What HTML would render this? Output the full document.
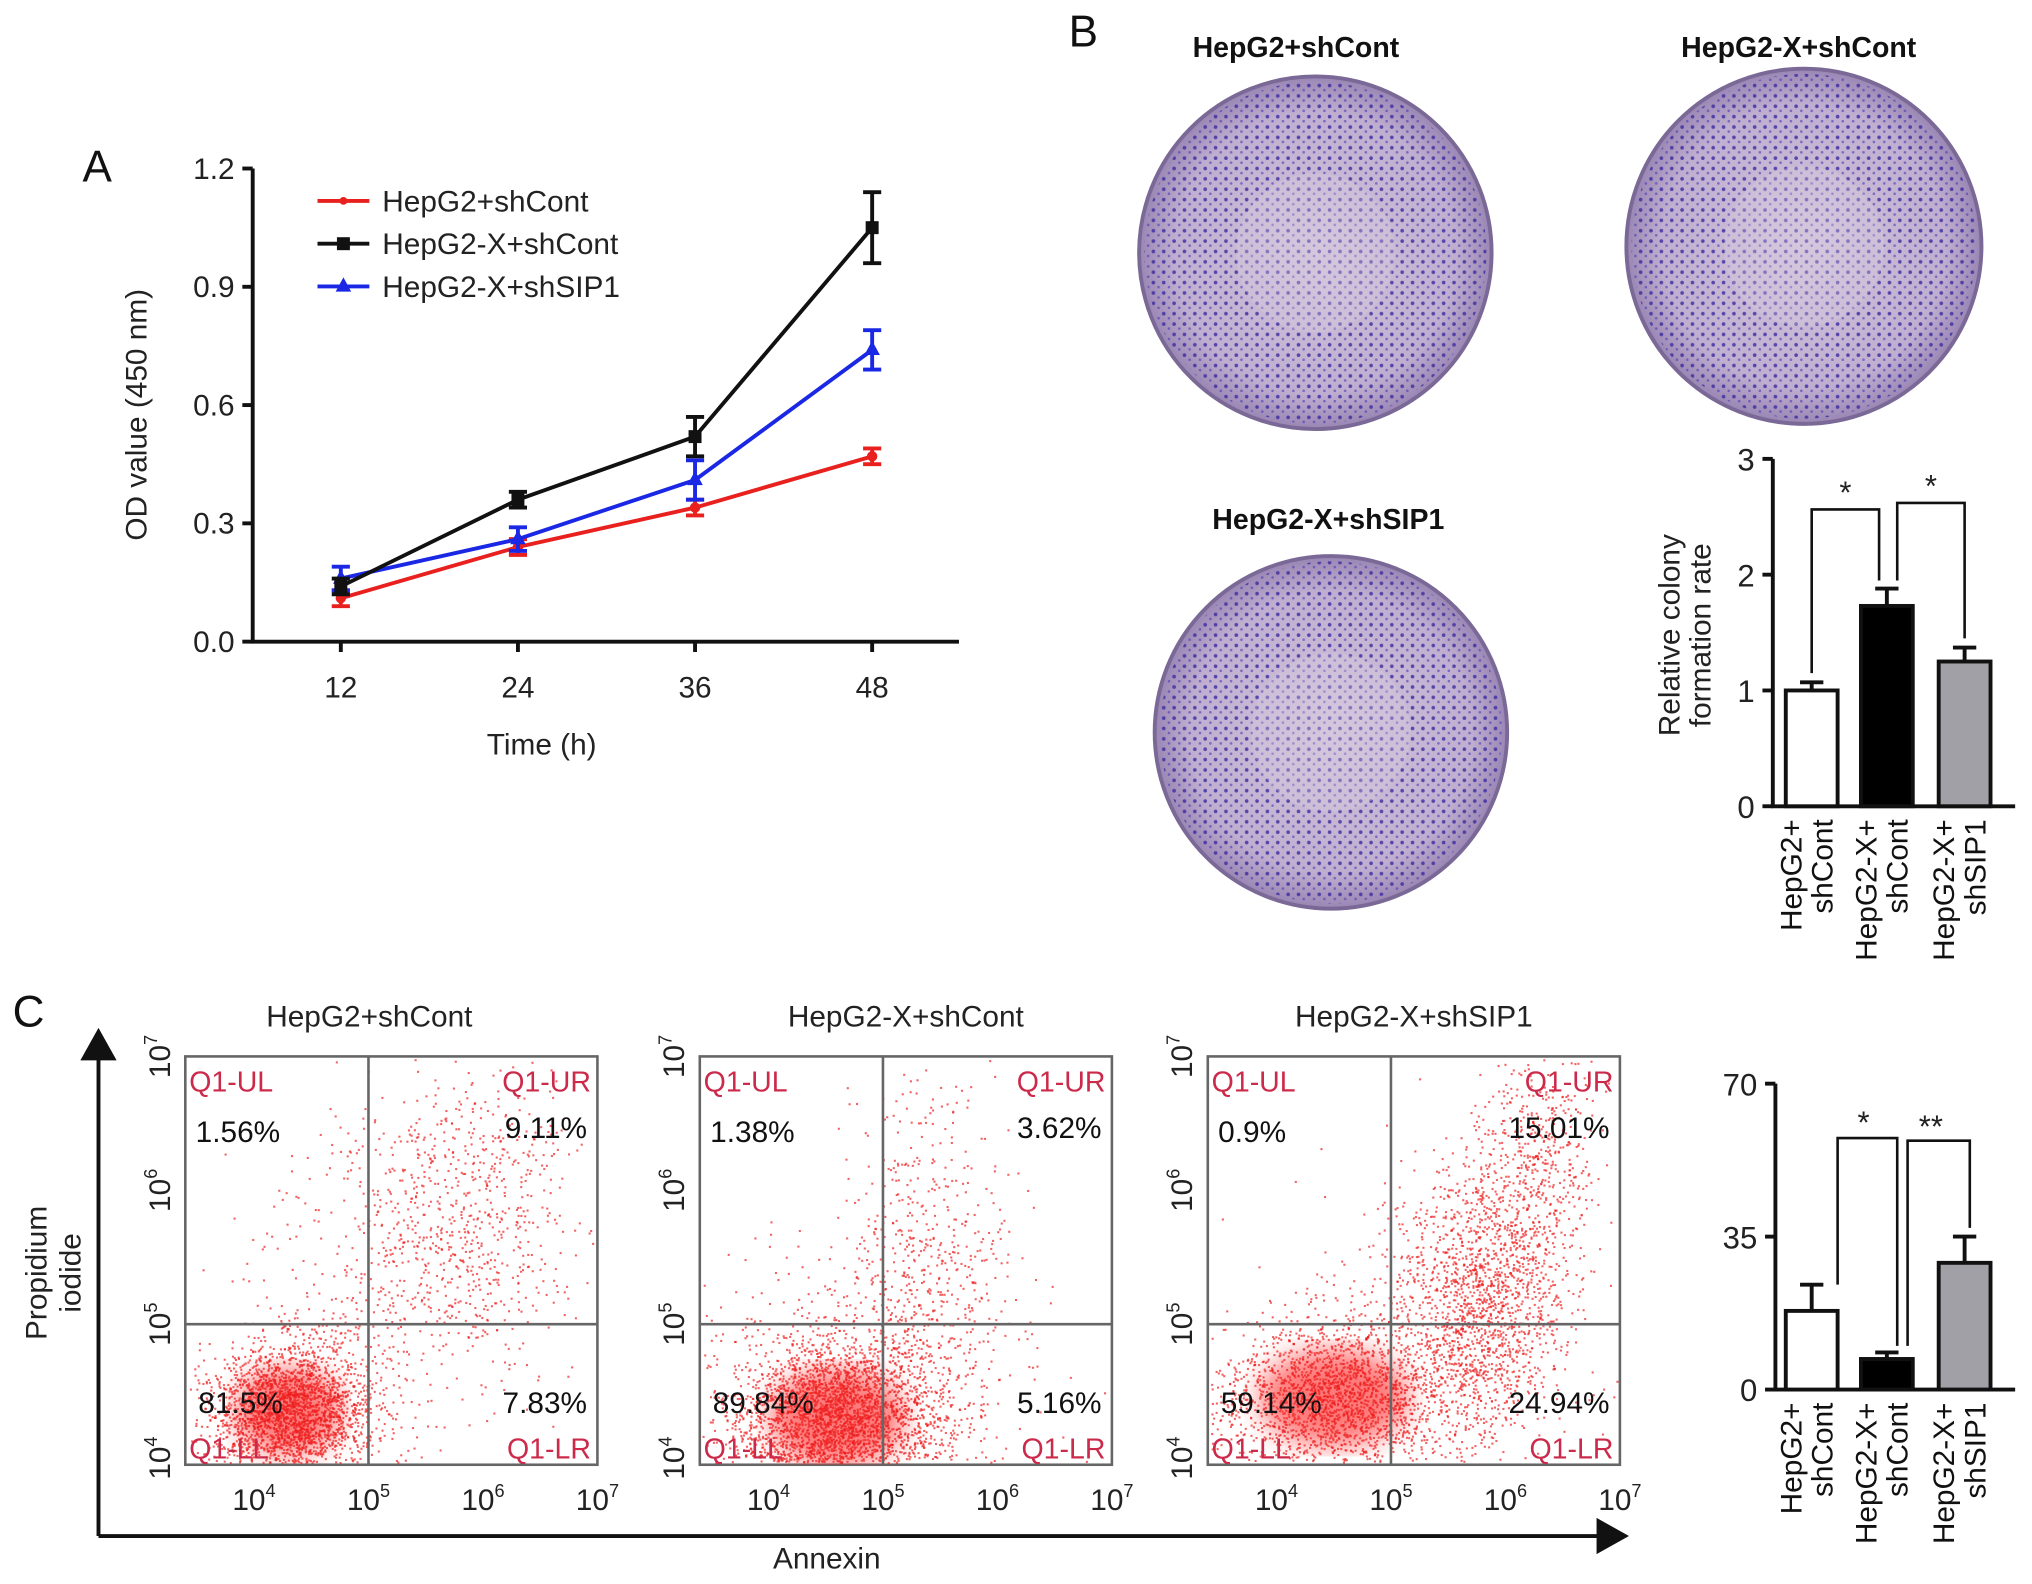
<!DOCTYPE html>
<html><head><meta charset="utf-8"><style>
html,body{margin:0;padding:0;background:#fff;}
svg{display:block;font-family:"Liberation Sans",Arial,sans-serif;}
</style></head><body>
<svg id="fig" width="2032" height="1584" viewBox="0 0 1568 1222" preserveAspectRatio="none" xmlns="http://www.w3.org/2000/svg">
<defs>
<radialGradient id="plateGrad" cx="50%" cy="50%" r="50%">
<stop offset="0%" stop-color="#d4c6dc"/><stop offset="80%" stop-color="#bfaed0"/><stop offset="100%" stop-color="#9a86b4"/>
</radialGradient>
<pattern id="dots" width="8" height="8" patternUnits="userSpaceOnUse">
<circle cx="2" cy="2" r="1.4" fill="#3a2aa0" opacity="0.8"/><circle cx="6" cy="5.5" r="1" fill="#4a38b0" opacity="0.6"/>
</pattern>
<filter id="blur"><feGaussianBlur stdDeviation="10"/></filter>
</defs>
<g id="root"></g>
</svg>
<script>
// ---- Panel A data ----
const timeCats = [12, 24, 36, 48];
const redVals = [0.11, 0.24, 0.34, 0.47];
const redErr = [0.02, 0.02, 0.02, 0.02];
const blackVals = [0.14, 0.36, 0.52, 1.05];
const blackErr = [0.02, 0.02, 0.05, 0.09];
const blueVals = [0.16, 0.26, 0.41, 0.74];
const blueErr = [0.03, 0.03, 0.05, 0.05];
const yTicksA = [0.0, 0.3, 0.6, 0.9, 1.2];
const yTickLabelsA = ["0.0", "0.3", "0.6", "0.9", "1.2"];
// ---- Panel B bar data ----
const colonyCats = ["HepG2+|shCont", "HepG2-X+|shCont", "HepG2-X+|shSIP1"];
const colonyVals = [1.0, 1.73, 1.25];
const colonyErr = [0.07, 0.15, 0.12];
const yTicksB = [0, 1, 2, 3];
// ---- Panel C bar data ----
const apopVals = [18, 7, 29];
const apopErr = [6, 1.5, 6];
const yTicksC = [0, 35, 70];
// ---- Flow data ----
const flowTitles = ["HepG2+shCont", "HepG2-X+shCont", "HepG2-X+shSIP1"];
const flowUL = ["1.56%", "1.38%", "0.9%"];
const flowUR = ["9.11%", "3.62%", "15.01%"];
const flowLL = ["81.5%", "89.84%", "59.14%"];
const flowLR = ["7.83%", "5.16%", "24.94%"];
// clusters in log-decade units: [xLog, yLog, sx, sy, count]
const flowClusters = [
 [[4.3,4.35,0.35,0.25,2600],[5.9,5.8,0.45,0.55,700],[5.0,5.2,0.6,0.7,400]],
 [[4.6,4.3,0.45,0.28,3000],[5.4,5.6,0.35,0.7,500],[4.9,4.7,0.7,0.5,500]],
 [[4.5,4.45,0.5,0.28,2000],[5.8,5.2,0.35,0.55,1500],[6.3,6.2,0.25,0.5,500],[5.2,4.8,0.6,0.5,500]]
];

const NS = "http://www.w3.org/2000/svg";
const root = document.getElementById('root');
const defs = document.querySelector('defs');
function mk(tag, attrs, parent, text){
  const e = document.createElementNS(NS, tag);
  for (const k in attrs) e.setAttribute(k, attrs[k]);
  if (text !== undefined) e.textContent = text;
  (parent || root).appendChild(e);
  return e;
}
function txt(x,y,s,size,parent,anchor,fill,rot){
  const a = {x:x,y:y,'font-size':size,'text-anchor':anchor||'middle',fill:fill||'#222'};
  if (rot) a.transform = 'rotate('+rot+' '+x+' '+y+')';
  return mk('text', a, parent, s);
}

// ================= Panel A =================
const gA = mk('g', {});


const lA = txt(75,140,'A',34,gA,'middle','#111');


const ax0 = 195, ax1 = 740, ay0 = 495, ay1 = 130;
const xA = t => 263 + (t - 12) / 36 * (673 - 263);
const yA = v => ay0 - v / 1.2 * (ay0 - ay1);
mk('path', {d:'M'+ax0+' '+ay1+' L'+ax0+' '+ay0+' L'+ax1+' '+ay0, fill:'none', stroke:'#111','stroke-width':3}, gA);
yTicksA.forEach((v,i)=>{
  mk('line',{x1:ax0-8,x2:ax0,y1:yA(v),y2:yA(v),stroke:'#111','stroke-width':3},gA);
  const t = txt(ax0-14,yA(v)+8,yTickLabelsA[i],23,gA,'end');
  
  
});
timeCats.forEach(c=>{
  mk('line',{x1:xA(c),x2:xA(c),y1:ay0,y2:ay0+8,stroke:'#111','stroke-width':3},gA);
  const t = txt(xA(c),538,String(c),23,gA);
  
  
});
const xt = txt(418,582,'Time (h)',23,gA);


const yt = txt(113,320,'OD value (450 nm)',23,gA,'middle','#222',-90);


function series(vals, errs, color, name, marker){
  const g = mk('g',{},gA);
  
  
  mk('polyline',{points:vals.map((v,i)=>xA(timeCats[i])+','+yA(v)).join(' '),fill:'none',stroke:color,'stroke-width':3},g);
  vals.forEach((v,i)=>{
    const x = xA(timeCats[i]);
    mk('path',{d:'M'+x+' '+yA(v-errs[i])+' V'+yA(v+errs[i])+' M'+(x-7)+' '+yA(v-errs[i])+' h14 M'+(x-7)+' '+yA(v+errs[i])+' h14',stroke:color,'stroke-width':3,fill:'none'},g);
    if (marker==='sq') mk('rect',{x:x-5,y:yA(v)-5,width:10,height:10,fill:color},g);
    else if (marker==='tri') mk('path',{d:'M'+x+' '+(yA(v)-7)+' l6 11 h-12z',fill:color},g);
    else mk('circle',{cx:x,cy:yA(v),r:4,fill:color},g);
  });
}
series(redVals, redErr, '#e8201e', 'series-hepg2-shcont', 'dot');
series(blueVals, blueErr, '#1a28e6', 'series-hepg2x-shsip1', 'tri');
series(blackVals, blackErr, '#111', 'series-hepg2x-shcont', 'sq');
const legA = [['HepG2+shCont','#e8201e','dot'],['HepG2-X+shCont','#111','sq'],['HepG2-X+shSIP1','#1a28e6','tri']];
legA.forEach((l,i)=>{
  const y = 155 + i*33;
  const g = mk('g',{},gA);
  
  
  mk('line',{x1:245,x2:285,y1:y,y2:y,stroke:l[1],'stroke-width':3},g);
  if (l[2]==='sq') mk('rect',{x:260,y:y-5,width:10,height:10,fill:l[1]},g);
  else if (l[2]==='tri') mk('path',{d:'M265 '+(y-7)+' l6 11 h-12z',fill:l[1]},g);
  else mk('circle',{cx:265,cy:y,r:3,fill:l[1]},g);
  txt(295,y+8,l[0],23,g,'start');
});

// ================= Panel B =================
const lB = txt(836,36,'B',34,root,'middle','#111');


const plates = [[1015,195,136,'HepG2+shCont',1000,44],[1392,190,137,'HepG2-X+shCont',1388,44],[1027,565,136,'HepG2-X+shSIP1',1025,408]];
plates.forEach(p=>{
  const g = mk('g',{});
  
  
  mk('circle',{cx:p[0],cy:p[1],r:p[2],fill:'url(#plateGrad)',stroke:'#7a6896','stroke-width':3},g);
  mk('circle',{cx:p[0],cy:p[1],r:p[2]-4,fill:'url(#dots)'},g);
  mk('circle',{cx:p[0],cy:p[1],r:p[2]*0.45,fill:'#d8cce0',opacity:0.35},g);
  const t = txt(p[4],p[5],p[3],22,g,'middle','#111');
  t.setAttribute('font-weight','bold');
});
function barChart(name, vals, errs, ticks, ymax, ax, yb, yt, labelY){
  const g = mk('g',{});
  
  
  const y = v => yb - v/ymax*(yb-yt);
  mk('path',{d:'M'+ax+' '+yt+' V'+yb+' H1555',stroke:'#111','stroke-width':3,fill:'none'},g);
  ticks.forEach(v=>{
    mk('line',{x1:ax-8,x2:ax,y1:y(v),y2:y(v),stroke:'#111','stroke-width':3},g);
    const t = txt(ax-14,y(v)+9,String(v),24,g,'end');
    
    
  });
  const bx = [1398,1456,1516], fills = ['#fff','#000','#a0a0a6'];
  vals.forEach((v,i)=>{
    const r = mk('rect',{x:bx[i]-20,y:y(v),width:40,height:yb-y(v),fill:fills[i],stroke:'#111','stroke-width':3},g);
    
    
    mk('path',{d:'M'+bx[i]+' '+y(v)+' V'+y(v+errs[i])+' M'+(bx[i]-9)+' '+y(v+errs[i])+' h18',stroke:'#111','stroke-width':3,fill:'none'},g);
    const parts = colonyCats[i].split('|');
    const lx = bx[i]-8;
    txt(lx,labelY,parts[0],23,g,'end','#111',-90);
    txt(lx+24,labelY,parts[1],23,g,'end','#111',-90);
  });
  return {g:g,y:y,bx:bx};
}
const cB = barChart('colony-bar-chart', colonyVals, colonyErr, yTicksB, 3, 1368, 622, 354, 632);
mk('path',{d:'M1398 '+(cB.y(1.15))+' V393 H1450 V'+cB.y(1.95),stroke:'#111','stroke-width':2,fill:'none'},cB.g);
mk('path',{d:'M1464 '+(cB.y(1.95))+' V388 H1516 V'+cB.y(1.45),stroke:'#111','stroke-width':2,fill:'none'},cB.g);
txt(1424,388,'*',24,cB.g);txt(1490,383,'*',24,cB.g);
const ybt = mk('g',{},cB.g);


txt(1296,490,'Relative colony',23,ybt,'middle','#222',-90);
txt(1320,490,'formation rate',23,ybt,'middle','#222',-90);

// ================= Panel C =================
const lC = txt(22,792,'C',34,root,'middle','#111');


const axg = mk('g',{});


mk('path',{d:'M76 1185 V812 M76 1185 H1238',stroke:'#111','stroke-width':3,fill:'none'},axg);
mk('path',{d:'M62 818 L76 793 L90 818z',fill:'#111'},axg);
mk('path',{d:'M1232 1171 L1257 1185 L1232 1199z',fill:'#111'},axg);
txt(36,982,'Propidium',23,axg,'middle','#222',-90);
txt(62,982,'iodide',23,axg,'middle','#222',-90);
txt(638,1210,'Annexin',23,axg,'middle','#222');

// seeded PRNG for scatter texture
let seed = 12345;
function rnd(){ seed |= 0; seed = seed + 0x6D2B79F5 | 0; let t = Math.imul(seed ^ seed>>>15, 1|seed); t = t + Math.imul(t ^ t>>>7, 61|t) ^ t; return ((t ^ t>>>14)>>>0)/4294967296; }
function gauss(){ return Math.sqrt(-2*Math.log(rnd()+1e-9))*Math.cos(2*Math.PI*rnd()); }
const plotX = [143, 540, 932];
flowTitles.forEach((title,k)=>{
  const x0 = plotX[k], w = 318, y0 = 815, h = 315;
  const cp = mk('clipPath',{id:'clip'+k},defs);
  mk('rect',{x:x0,y:y0,width:w,height:h},cp);
  const g = mk('g',{});
  
  
  const fx = l => x0 + (l-3.4)/3.6*w;
  const fy = l => y0 + h - (l-3.95)/3.05*h;
  const tt = txt(x0+w/2+(k===0?-17:0),792,title,23,g,'middle','#222');
  
  
  mk('rect',{x:x0,y:y0,width:w,height:h,fill:'#fff',stroke:'#666','stroke-width':2},g);
  const sc = mk('g',{'clip-path':'url(#clip'+k+')'},g);
  
  
  const cl = flowClusters[k];
  mk('ellipse',{cx:fx(cl[0][0]),cy:fy(cl[0][1]),rx:cl[0][2]*w/3.6*1.3,ry:cl[0][3]*h/3.05*1.3,fill:'#f22',opacity:0.6,filter:'url(#blur)'},sc);
  cl.forEach(c=>{
    for (let i=0;i<c[4];i++){
      const px = fx(c[0]+gauss()*c[2]), py = fy(c[1]+gauss()*c[3]);
      if (px<x0+2||px>x0+w-2||py<y0+2||py>y0+h-2) continue;
      mk('rect',{x:px.toFixed(1),y:py.toFixed(1),width:1.6,height:1.6,fill:'#ee2020',opacity:0.7},sc);
    }
  });
  const vx = fx(5.0), hy = fy(5.0)+0;
  mk('line',{x1:vx,x2:vx,y1:y0,y2:y0+h,stroke:'#666','stroke-width':2},g);
  mk('line',{x1:x0,x2:x0+w,y1:hy,y2:hy,stroke:'#666','stroke-width':2},g);
  const q = '#cc2a4a';
  txt(x0+3,y0+27,'Q1-UL',22,g,'start',q);
  txt(x0+w-5,y0+27,'Q1-UR',22,g,'end',q);
  txt(x0+3,y0+h-5,'Q1-LL',22,g,'start',q);
  txt(x0+w-5,y0+h-5,'Q1-LR',22,g,'end',q);
  txt(x0+8,y0+66,flowUL[k],23,g,'start','#111');
  txt(x0+w-8,y0+63,flowUR[k],23,g,'end','#111');
  txt(x0+10,y0+h-40,flowLL[k],23,g,'start','#111');
  txt(x0+w-8,y0+h-40,flowLR[k],23,g,'end','#111');
  [4,5,6,7].forEach(e=>{
    const xl = mk('text',{x:fx(e),y:1165,'font-size':23,'text-anchor':'middle',fill:'#222'},g);
    xl.textContent = '10';
    mk('tspan',{dy:-10,'font-size':14},xl,String(e));
    const yy = fy(e);
    const yl = mk('text',{x:x0-12,y:yy,'font-size':23,'text-anchor':'middle',fill:'#222',transform:'rotate(-90 '+(x0-12)+' '+yy+')'},g);
    yl.textContent = '10';
    mk('tspan',{dy:-10,'font-size':14},yl,String(e));
  });
});
const cC = barChart('apoptosis-bar-chart', apopVals, apopErr, yTicksC, 70, 1370, 1072, 836, 1082);
mk('path',{d:'M1418 '+cC.y(24)+' V878 H1464 V'+cC.y(10),stroke:'#111','stroke-width':2,fill:'none'},cC.g);
mk('path',{d:'M1472 '+cC.y(10)+' V880 H1520 V'+cC.y(37),stroke:'#111','stroke-width':2,fill:'none'},cC.g);
txt(1438,874,'*',24,cC.g);txt(1490,877,'**',24,cC.g);
</script>
</body></html>
